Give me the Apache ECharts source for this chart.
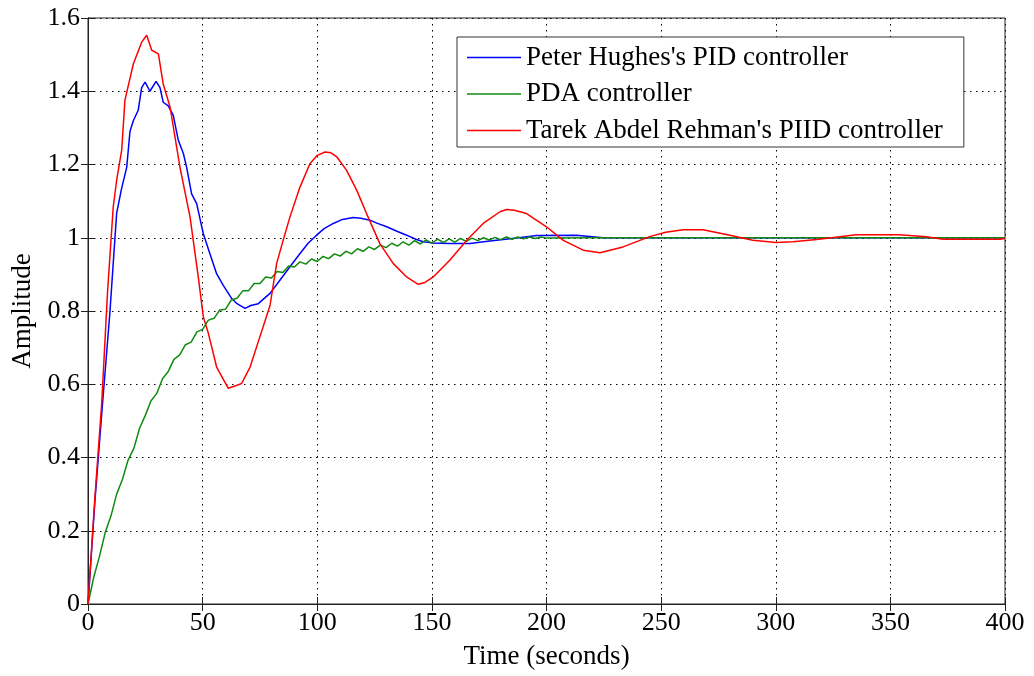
<!DOCTYPE html>
<html>
<head>
<meta charset="utf-8">
<script src="https://cdn.jsdelivr.net/npm/echarts@6/dist/echarts.min.js"></script>
<style>
html,body{margin:0;padding:0;background:#fff;}
#chart{width:1034px;height:676px;}
</style>
</head>
<body>
<div id="chart"></div>
<script>
// ---- Data (time in seconds, amplitude) ----
const seriesNames = ["Peter Hughes's PID controller", "PDA controller", "Tarek Abdel Rehman's PIID controller"];
const xTicks = [0, 50, 100, 150, 200, 250, 300, 350, 400];
const yTicks = [0, 0.2, 0.4, 0.6, 0.8, 1, 1.2, 1.4, 1.6];

const pidData = [
  [0,0],[3,0.28],[6,0.52],[9.6,0.8],[11,0.93],[12.5,1.067],[14.5,1.13],[16.9,1.193],[18.3,1.29],
  [19.8,1.32],[21.9,1.348],[23.4,1.41],[24.9,1.425],[27,1.40],[29.7,1.427],[31.4,1.41],[32.8,1.37],
  [35,1.36],[37.2,1.334],[39.4,1.266],[41.6,1.23],[43,1.193],[45.2,1.12],[47.4,1.093],[50.3,1.011],
  [53,0.96],[56.1,0.902],[59,0.87],[62.7,0.834],[65,0.82],[68.5,0.807],[71,0.815],[74.3,0.82],
  [77,0.835],[79.4,0.848],[83.7,0.884],[88,0.92],[92.5,0.957],[96,0.985],[99.7,1.007],[103,1.025],
  [107,1.039],[111,1.05],[115.7,1.055],[119,1.053],[123,1.048],[126,1.04],[130.3,1.03],[135,1.017],
  [139,1.007],[143,0.996],[146.2,0.989],[150,0.986],[157.9,0.984],[166.6,0.984],[175.3,0.991],
  [188,1.0],[195.7,1.006],[213,1.007],[224.6,1.0],[300,1.0],[400,1.0]
];

const pdaData = [
  [0,0],[2.5,0.073],[5,0.130],[7.5,0.195],[10,0.240],[12.5,0.300],[15,0.340],[17.5,0.393],[20,0.425],
  [22.5,0.480],[25,0.515],[27.5,0.555],[30,0.575],[32.5,0.615],[35,0.635],[37.5,0.668],[40,0.680],
  [42.5,0.708],[45,0.715],[47.5,0.743],[50,0.750],[52.5,0.775],[55,0.780],[57.5,0.803],[60,0.805],
  [62.5,0.830],[65,0.835],[67.5,0.855],[70,0.855],[72.5,0.875],[75,0.875],[77.5,0.893],[80,0.890],
  [82.5,0.908],[85,0.905],[87.5,0.923],[90,0.920],[92.5,0.934],[95,0.928],[97.5,0.942],[100,0.935],
  [102.5,0.949],[105,0.943],[107.5,0.956],[110,0.950],[112.5,0.963],[115,0.956],[117.5,0.970],[120,0.963],
  [122.5,0.975],[125,0.968],[127.5,0.980],[130,0.973],[132.5,0.985],[135,0.977],[137.5,0.989],[140,0.980],
  [142.5,0.992],[145,0.983],[147.5,0.994],[150,0.985],[152.5,0.996],[155,0.987],[157.5,0.997],[160,0.988],
  [162.5,0.998],[165,0.990],[167.5,0.999],[170,0.992],[172.5,1.000],[175,0.994],[177.5,1.001],[180,0.995],
  [182.5,1.002],[185,0.996],[187.5,1.002],[190,0.997],[192.5,1.002],[195,0.998],[197.5,1.002],[200,0.999],
  [220,1.0],[250,1.0],[300,1.0],[350,1.0],[400,1.0]
];

const piidData = [
  [0,0],[3,0.29],[6,0.55],[8.5,0.85],[11,1.084],[12.5,1.157],[14.7,1.239],[16.1,1.375],[17.6,1.416],
  [19.8,1.475],[23.4,1.534],[25.6,1.553],[27.8,1.512],[30.7,1.502],[32.8,1.42],[35.8,1.357],[40.1,1.193],
  [44.5,1.057],[48.1,0.893],[50.3,0.784],[52.5,0.739],[56.1,0.647],[61.2,0.589],[64,0.595],[67,0.602],
  [70.7,0.647],[75,0.73],[79.4,0.815],[82.3,0.93],[85,0.99],[88.1,1.057],[92.5,1.139],[96.8,1.202],
  [100,1.225],[103.4,1.234],[106,1.232],[108.5,1.221],[112.8,1.184],[117.2,1.13],[121.5,1.066],
  [127.3,0.984],[133.1,0.93],[139,0.893],[144,0.873],[147,0.878],[150.6,0.893],[157.9,0.939],
  [165.2,0.993],[172.4,1.039],[179.7,1.071],[182.6,1.077],[186,1.075],[191.3,1.066],[200,1.03],
  [207.3,0.993],[216,0.966],[223.3,0.959],[233.4,0.975],[245,1.003],[252,1.015],[259.6,1.022],
  [268.3,1.022],[280,1.007],[290,0.993],[300,0.987],[307.5,0.989],[317.8,0.995],[328,1.003],
  [335,1.008],[354,1.008],[365.7,1.003],[373,0.996],[397.7,0.996],[400,0.998]
];

const colors = ['#0000ff', '#108a10', '#ff0000'];

// ---- Chart ----
const FONT = '"Liberation Serif", "Times New Roman", serif';
const chart = echarts.init(document.getElementById('chart'), null, {renderer: 'canvas'});

const gridLine = {show: true, lineStyle: {color: '#000', width: 1, type: [1.5, 4.5]}};

const option = {
  animation: false,
  backgroundColor: '#fff',
  grid: {left: 88, right: 29, top: 18, bottom: 72, show: true, borderColor: '#222', borderWidth: 1, backgroundColor: '#fff'},
  legend: {
    orient: 'vertical',
    left: 457, top: 37,
    padding: [7, 21, 3, 10],
    itemWidth: 54, itemHeight: 1.5, itemGap: 9.5,
    icon: 'rect',
    borderColor: '#333', borderWidth: 1, backgroundColor: '#fff',
    textStyle: {fontFamily: FONT, fontSize: 27, color: '#000'},
    data: seriesNames
  },
  xAxis: [{
    type: 'value', min: xTicks[0], max: xTicks[xTicks.length - 1], interval: 50,
    name: 'Time (seconds)', nameLocation: 'middle', nameGap: 39,
    nameTextStyle: {fontFamily: FONT, fontSize: 27, color: '#000'},
    axisLine: {show: true, lineStyle: {color: '#222', width: 1}},
    axisTick: {show: true, inside: true, length: 7, lineStyle: {color: '#222'}},
    axisLabel: {fontFamily: FONT, fontSize: 26, color: '#000', margin: 6},
    splitLine: gridLine
  }, {
    type: 'value', position: 'top', min: xTicks[0], max: xTicks[xTicks.length - 1], interval: 50,
    axisLine: {show: true, lineStyle: {color: '#222', width: 1}},
    axisTick: {show: true, inside: true, length: 7, lineStyle: {color: '#222'}},
    axisLabel: {show: false}, splitLine: {show: false}
  }],
  yAxis: [{
    type: 'value', min: yTicks[0], max: yTicks[yTicks.length - 1], interval: 0.2,
    name: 'Amplitude', nameLocation: 'middle', nameGap: 52,
    nameTextStyle: {fontFamily: FONT, fontSize: 27, color: '#000'},
    axisLine: {show: true, lineStyle: {color: '#222', width: 1}},
    axisTick: {show: true, inside: true, length: 7, lineStyle: {color: '#222'}},
    axisLabel: {fontFamily: FONT, fontSize: 26, color: '#000', margin: 8},
    splitLine: gridLine
  }, {
    type: 'value', position: 'right', min: yTicks[0], max: yTicks[yTicks.length - 1], interval: 0.2,
    axisLine: {show: true, lineStyle: {color: '#222', width: 1}},
    axisTick: {show: true, inside: true, length: 7, lineStyle: {color: '#222'}},
    axisLabel: {show: false}, splitLine: {show: false}
  }],
  series: [
    {name: seriesNames[0], type: 'line', data: pidData, showSymbol: false, color: colors[0], lineStyle: {width: 1.5, color: colors[0]}, z: 2},
    {name: seriesNames[1], type: 'line', data: pdaData, showSymbol: false, color: colors[1], lineStyle: {width: 1.5, color: colors[1]}, z: 3},
    {name: seriesNames[2], type: 'line', data: piidData, showSymbol: false, color: colors[2], lineStyle: {width: 1.5, color: colors[2]}, z: 4}
  ]
};
chart.setOption(option);
</script>
</body>
</html>
